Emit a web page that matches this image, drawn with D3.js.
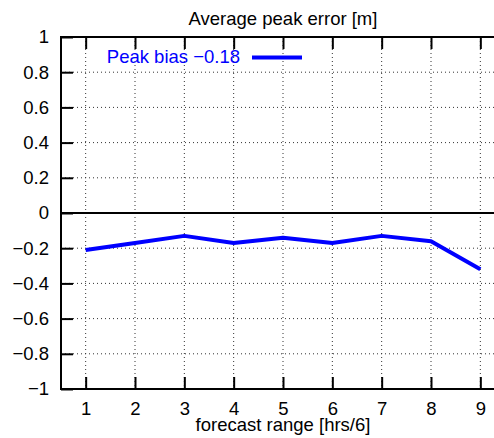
<!DOCTYPE html>
<html>
<head>
<meta charset="utf-8">
<script src="https://cdn.jsdelivr.net/npm/d3@7"></script>
<style>
  html, body { margin: 0; padding: 0; background: #fff; }
  svg { display: block; }
  text { font-family: "Liberation Sans", Arial, Helvetica, sans-serif; }
</style>
</head>
<body>
<div id="chart"></div>
<script>
// ---- data ----
const forecastRange = [1, 2, 3, 4, 5, 6, 7, 8, 9];
const peakBias = [-0.21, -0.17, -0.13, -0.17, -0.14, -0.17, -0.13, -0.16, -0.32];
const xTicks = [1, 2, 3, 4, 5, 6, 7, 8, 9];
const yTicks = [-1, -0.8, -0.6, -0.4, -0.2, 0, 0.2, 0.4, 0.6, 0.8, 1];
const titleText = "Average peak error [m]";
const xLabelText = "forecast range [hrs/6]";
const legendLabel = "Peak bias \u22120.18";

// ---- layout ----
const W = 494, H = 438;
const pLeft = 61, pRight = 505, pTop = 37, pBottom = 389;
const fs = 18.5;

const svg = d3.select("#chart").append("svg")
  .attr("width", W).attr("height", H);

const x = d3.scaleLinear().domain([0.5, 9.5]).range([pLeft, pRight]);
const y = d3.scaleLinear().domain([-1, 1]).range([pBottom, pTop]);
const fmt = d3.format("~g");

// grid
const grid = svg.append("g").attr("stroke", "#333").attr("stroke-width", 1)
  .attr("stroke-dasharray", "1,3");
grid.selectAll("line.v").data(xTicks).enter().append("line")
  .attr("x1", d => x(d)).attr("x2", d => x(d))
  .attr("y1", pTop).attr("y2", pBottom);
grid.selectAll("line.h").data(yTicks.filter(d => d !== 0 && d !== -1 && d !== 1)).enter().append("line")
  .attr("x1", pLeft).attr("x2", pRight)
  .attr("y1", d => y(d)).attr("y2", d => y(d));

// zero line
svg.append("line")
  .attr("x1", pLeft).attr("x2", pRight)
  .attr("y1", y(0)).attr("y2", y(0))
  .attr("stroke", "#000").attr("stroke-width", 2);

// axes
const styleAxis = g => {
  g.select(".domain").remove();
  g.selectAll(".tick line").attr("stroke", "#000").attr("stroke-width", 2);
  g.selectAll(".tick text").attr("fill", "#000")
    .style("font-size", fs + "px")
    .style("font-family", "'Liberation Sans', Arial, Helvetica, sans-serif");
};

svg.append("g").attr("transform", `translate(0,${pBottom})`)
  .call(d3.axisBottom(x).tickValues(xTicks).tickSize(-12).tickPadding(13).tickFormat(fmt))
  .call(styleAxis);

svg.append("g").attr("transform", `translate(0,${pTop})`)
  .call(d3.axisTop(x).tickValues(xTicks).tickSize(-12).tickFormat(""))
  .call(styleAxis);

svg.append("g").attr("transform", `translate(${pLeft},0)`)
  .call(d3.axisLeft(y).tickValues(yTicks).tickSize(-12).tickPadding(12).tickFormat(fmt))
  .call(styleAxis);

// frame
const frame = svg.append("g").attr("stroke", "#000").attr("stroke-width", 2).attr("fill", "none");
frame.append("line").attr("x1", pLeft).attr("x2", pLeft).attr("y1", pTop - 1).attr("y2", pBottom + 1);
frame.append("line").attr("x1", pLeft).attr("x2", pRight).attr("y1", pTop).attr("y2", pTop);
frame.append("line").attr("x1", pLeft).attr("x2", pRight).attr("y1", pBottom).attr("y2", pBottom);
frame.append("line").attr("x1", pRight).attr("x2", pRight).attr("y1", pTop).attr("y2", pBottom);

// data line
const line = d3.line().x((d, i) => x(forecastRange[i])).y(d => y(d));
svg.append("path").datum(peakBias)
  .attr("d", line)
  .attr("fill", "none")
  .attr("stroke", "#0000ff")
  .attr("stroke-width", 4)
  .attr("stroke-linejoin", "round");

// legend
svg.append("text").attr("x", 240).attr("y", 63)
  .attr("text-anchor", "end").attr("fill", "#0000ff")
  .style("font-size", fs + "px").text(legendLabel);
svg.append("line").attr("x1", 252).attr("x2", 302).attr("y1", 57.5).attr("y2", 57.5)
  .attr("stroke", "#0000ff").attr("stroke-width", 4);

// title and x label
svg.append("text").attr("x", (pLeft + pRight) / 2).attr("y", 25)
  .attr("text-anchor", "middle").attr("fill", "#000")
  .style("font-size", fs + "px").text(titleText);
svg.append("text").attr("x", (pLeft + pRight) / 2).attr("y", 431)
  .attr("text-anchor", "middle").attr("fill", "#000")
  .style("font-size", fs + "px").text(xLabelText);
</script>
</body>
</html>
